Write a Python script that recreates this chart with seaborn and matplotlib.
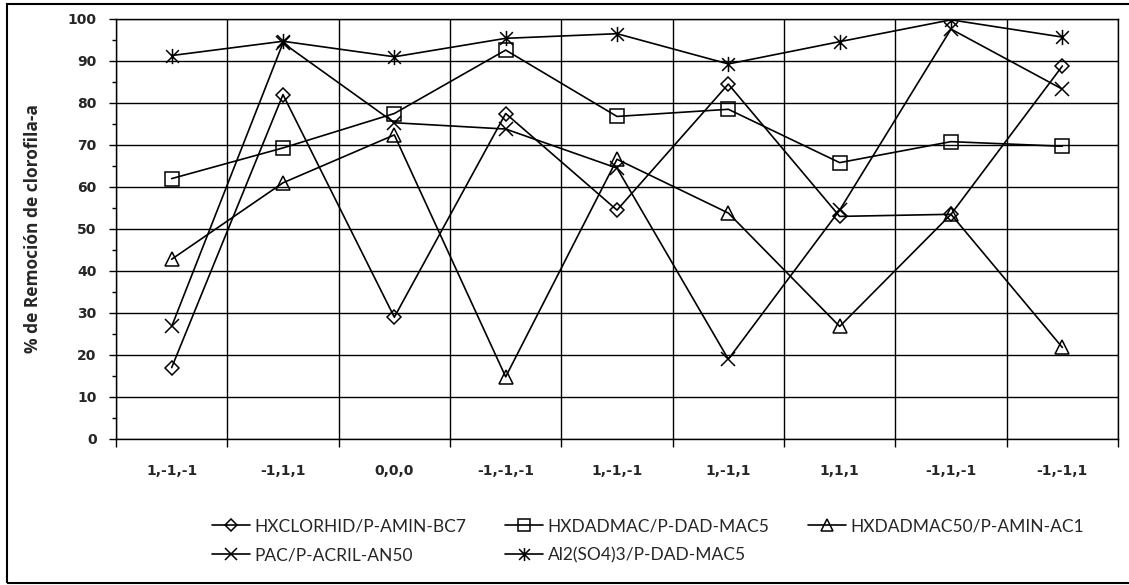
import seaborn as sns
import pandas as pd
import numpy as np
import matplotlib
matplotlib.use("Agg")
import matplotlib.pyplot as plt
from matplotlib.lines import Line2D
from matplotlib.path import Path
from matplotlib.patches import Rectangle

## Donnees

categorias = ["1,-1,-1", "-1,1,1", "0,0,0", "-1,-1,-1", "1,-1,-1",
              "1,-1,1", "1,1,1", "-1,1,-1", "-1,-1,1"]

series = ["HXCLORHID/P-AMIN-BC7", "HXDADMAC/P-DAD-MAC5", "HXDADMAC50/P-AMIN-AC1",
          "PAC/P-ACRIL-AN50", "Al2(SO4)3/P-DAD-MAC5"]

hxclorhid = [17, 82, 29, 77.5, 54.5, 84.5, 53, 53.5, 88.8]
hxdadmac = [62, 69.3, 77.5, 92.6, 76.8, 78.5, 65.8, 70.8, 69.7]
hxdadmac50 = [42.8, 61, 72.4, 14.8, 66.6, 53.8, 26.8, 53.5, 21.8]
pac = [26.8, 94.3, 75.3, 73.8, 64.5, 19, 54.5, 97.6, 83.3]
al2so4 = [91.3, 94.7, 91, 95.4, 96.5, 89.3, 94.6, 99.8, 95.7]

valores = [hxclorhid, hxdadmac, hxdadmac50, pac, al2so4]

df = pd.DataFrame({
    "pos": np.tile(np.arange(len(categorias)), len(series)),
    "remocion": np.concatenate(valores),
    "serie": np.repeat(series, len(categorias)),
})

## Style

sns.set_style("white")

asterisco = Path([(-1, -1), (1, 1), (-1, 1), (1, -1), (0, -1.2), (0, 1.2)],
                 [Path.MOVETO, Path.LINETO] * 3)
marcadores = {series[0]: "D", series[1]: "s", series[2]: "^",
              series[3]: "x", series[4]: asterisco}
tailles = {series[0]: 7, series[1]: 10, series[2]: 10, series[3]: 10, series[4]: 11}

fig = plt.figure(figsize=(11.29, 5.85), dpi=100)
ax = fig.add_axes([116 / 1129, 146 / 585, 1002 / 1129, 420 / 585])

for s in series:
    sns.lineplot(data=df[df["serie"] == s], x="pos", y="remocion", marker=marcadores[s],
                 color="black", linewidth=1.2, markersize=tailles[s],
                 markerfacecolor="none", markeredgecolor="black", markeredgewidth=1.1,
                 legend=False, ax=ax)

ax.set_xlim(-0.5, len(categorias) - 0.5)
ax.set_ylim(0, 100)

ax.set_xticks(np.arange(-0.5, len(categorias), 1))
ax.set_xticklabels([])
ax.set_xticks(np.arange(len(categorias)), minor=True)
ax.set_xticklabels(categorias, minor=True, fontsize=10, fontweight="bold",
                   family="DejaVu Sans")
ax.tick_params(axis="x", which="major", direction="out", length=6, width=1,
               color="black", bottom=True)
ax.tick_params(axis="x", which="minor", length=0, pad=18)

ax.set_yticks(np.arange(0, 101, 10))
ax.set_yticks(np.arange(5, 100, 10), minor=True)
ax.set_yticklabels([str(v) for v in range(0, 101, 10)], fontsize=10, fontweight="bold",
                   family="DejaVu Sans")
ax.tick_params(axis="y", which="major", direction="out", length=5, width=1,
               color="black", pad=9, left=True)
ax.tick_params(axis="y", which="minor", direction="out", length=3, width=1,
               color="black", left=True)

ax.grid(True, which="major", color="black", linewidth=1)
for sp in ax.spines.values():
    sp.set_color("black")
    sp.set_linewidth(1)

ax.set_xlabel("")
ax.set_ylabel("% de Remoción de clorofila-a", fontsize=12.5, fontweight="bold",
              family="Open Sans")
ax.yaxis.set_label_coords(-0.074, 0.5)

## Legende

poignees = [Line2D([], [], color="black", linewidth=1.2, marker=marcadores[s],
                   markersize=tailles[s] * 0.85, markerfacecolor="none",
                   markeredgecolor="black", markeredgewidth=1.1) for s in series]
ordre = [0, 3, 1, 4, 2]
fig.legend([poignees[i] for i in ordre], [series[i] for i in ordre], ncol=3,
           loc="center", bbox_to_anchor=(648 / 1129, 44 / 585), frameon=False,
           prop={"family": "Lato", "size": 12.5}, handlelength=2.2,
           handletextpad=0.25, columnspacing=2.2, labelspacing=0.75)

## Cadre

fig.patches.append(Rectangle((7 / 1129, 2 / 585), 1.2, 579 / 585, transform=fig.transFigure,
                             fill=False, edgecolor="black", linewidth=1.5))

plt.savefig("out.png", dpi=100)
